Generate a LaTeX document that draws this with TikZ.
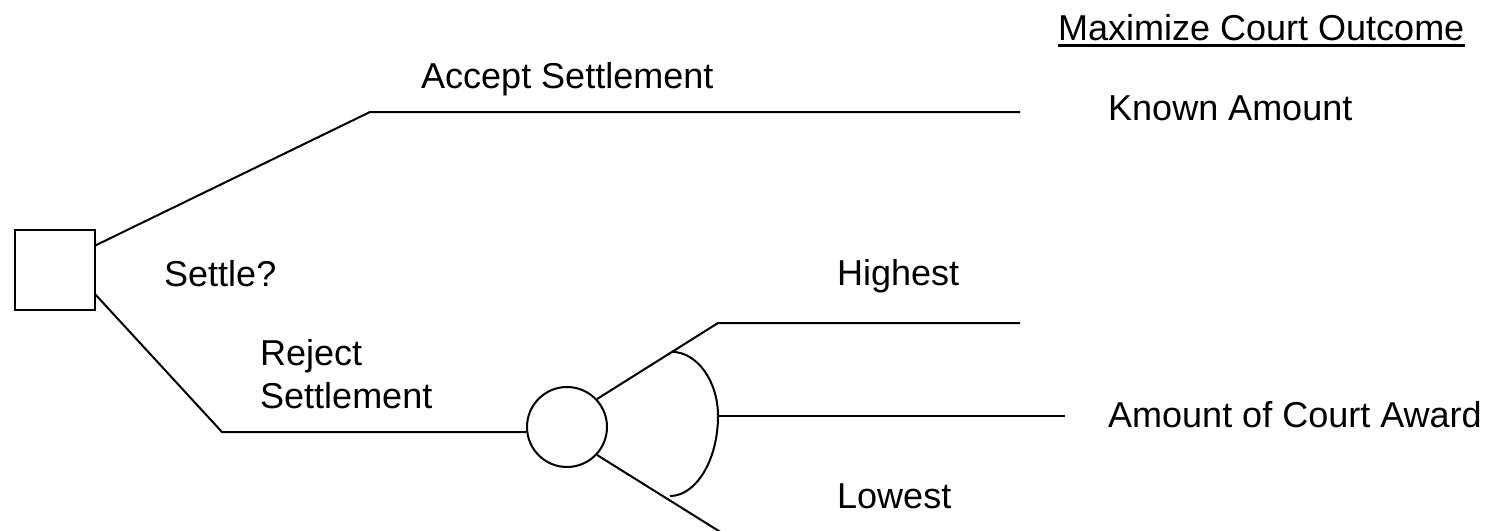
\documentclass[tikz,border=0pt]{standalone}
\usepackage{fontspec}
\setmainfont{Liberation Sans}
\usetikzlibrary{positioning,calc}
\definecolor{black}{RGB}{0,0,0}
\tikzset{
  lbl/.style={anchor=base west,inner sep=0pt,font=\fontsize{36}{43}\selectfont},
  branch/.style={draw=black,line width=2pt},
}
\begin{document}
\begin{tikzpicture}[x=1pt,y=-1pt]
\useasboundingbox (0,0) rectangle (1501,530);

%decision and chance nodes
\node [draw=black,line width=2pt,rectangle,inner sep=0pt,minimum width=80pt,minimum height=80pt] (settle) at (54.5,270) {};
\node [draw=black,line width=2pt,circle,inner sep=0pt,minimum size=80pt] (court) at (567,427) {};

%bends and ends of the branches
\coordinate (acc bend) at (370,112);
\coordinate (acc end) at (1020,112);
\coordinate (rej bend) at (222,432);
\coordinate (hi bend) at (718,323);
\coordinate (hi end) at (1020,323);
\coordinate (mid start) at (718,416);
\coordinate (mid end) at (1065,416);
\coordinate (lo end) at (722,533);
\coordinate (brk top) at ($(court.43)!0.62!(hi bend)$);
\coordinate (brk bot) at (670,496);

\draw[branch] ($(settle.north east)!0.2!(settle.south east)$) -- (acc bend) -- (acc end);
\draw[branch] ($(settle.north east)!0.8!(settle.south east)$) -- (rej bend) -- (court.west |- rej bend);
\draw[branch] (court.43) -- (hi bend) -- (hi end);
\draw[branch] (court.-43) -- (lo end);
\draw[branch] (mid start) -- (mid end);
\draw[branch] (brk top) .. controls (697,352) and (718,381) .. (mid start) .. controls (718,460) and (696,496) .. (brk bot);

%labels
\node [lbl] (accept) at (421,88) {Accept Settlement};
\node [lbl] (ask) at (164,286) {Settle?};
\node [lbl] (reject) at (260,365) {Reject};
\node [lbl] (reject2) at ([yshift=-43pt]reject.base west) {Settlement};
\node [lbl] (high) at (837,285) {Highest};
\node [lbl] (low) at (837,508) {Lowest};

\node [lbl] (goal) at (1058,40) {Maximize Court Outcome};
\draw[line width=3pt] ([yshift=-5pt]goal.south west) -- ([yshift=-5pt]goal.south east);
\node [lbl] (known) at (1108,120) {Known Amount};
\node [lbl] (award) at (1108,427) {Amount of Court Award};

\end{tikzpicture}
\end{document}
